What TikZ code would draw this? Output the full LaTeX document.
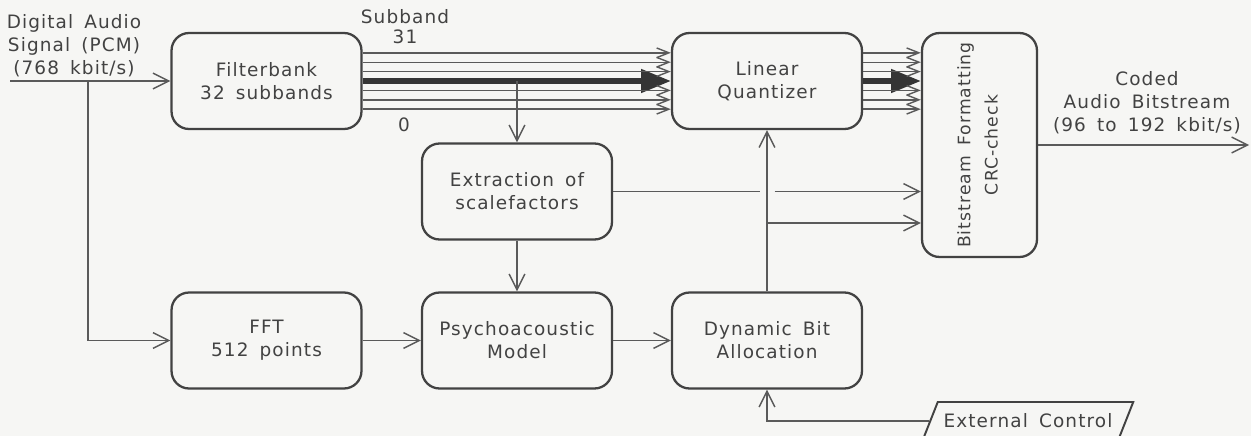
\documentclass[tikz,border=0pt]{standalone}
\usepackage{fontspec}
\setmainfont{DejaVu Sans}[LetterSpace=6,WordSpace=1.6]
\usepackage{tikz}
\usetikzlibrary{arrows.meta,positioning,calc,shapes.geometric}
\definecolor{paper}{RGB}{246,246,244}
\definecolor{ink}{RGB}{66,66,66}
\definecolor{wire}{RGB}{90,90,90}

\begin{document}
\begin{tikzpicture}[x=0.02cm,y=-0.02cm,
  font=\fontsize{10.5}{13}\selectfont, text=ink,
  block/.style={draw=ink,line width=1.3pt,rounded corners=10pt,fill=paper,minimum width=3.8cm,minimum height=1.92cm,align=center},
  link/.style={draw=wire,line width=0.8pt},
  arr/.style={link,-{Straight Barb[length=9pt,width=9pt]}},
  band/.style={link,-{Straight Barb[length=7pt,width=5.5pt]}},
  bigband/.style={draw=ink!80!black,line width=3pt,-{Triangle[length=17pt,width=13pt]}}]
 \clip (0,0) rectangle (1251,436);
 \fill[paper] (0,0) rectangle (1251,436);
 % blocks
 \node[block] (fb) at (266.5,81) {Filterbank\\32 subbands};
 \node[block] (fft) at (266.5,340.5) {FFT\\512 points};
 \node[block] (scf) at (517,191.5) {Extraction of\\scalefactors};
 \node[block] (psy) at (517,340.5) {Psychoacoustic\\Model};
 \node[block] (quant) at (767,81) {Linear\\Quantizer};
 \node[block] (dba) at (767,340.5) {Dynamic Bit\\Allocation};
 \node[block,minimum width=2.3cm,minimum height=4.48cm,font=\fontsize{9.8}{12.5}\selectfont] (bsf) at (979.5,145)
   {\rotatebox{90}{\begin{tabular}{@{}c@{}}Bitstream Formatting\\[3pt]CRC-check\end{tabular}}};
 \node[trapezium,trapezium left angle=60,trapezium right angle=120,trapezium stretches=true,
   draw=ink,line width=1.1pt,fill=paper,minimum width=4.2cm,minimum height=0.76cm] (ext) at (1028,421) {External Control};
 % labels
 \node[align=center] (src) at (74,46) {Digital Audio\\Signal (PCM)\\(768 kbit/s)};
 \node[align=center] (sb31) at (405,27) {Subband\\[-1.5pt]31};
 \node (sb0) at (404,125) {0};
 \node[align=center] (coded) at (1147,103) {Coded\\Audio Bitstream\\(96 to 192 kbit/s)};
 % input
 \coordinate (in) at (10,81);
 \coordinate (split) at (88,81);
 \draw[arr] (in) -- (fb.west);
 \draw[arr] (split) |- (fft.west);
 % subbands
 \coordinate (qout) at (quant.east -| bsf.west);
 \draw[bigband] (fb.east) -- (quant.west);
 \draw[bigband] (quant.east) -- (qout);
 \foreach \k in {-3,-2,-1,1,2,3} {
   \draw[band] ([yshift=\k*0.188cm]fb.east) -- ([yshift=\k*0.188cm]quant.west);
   \draw[band] ([yshift=\k*0.188cm]quant.east) -- ([yshift=\k*0.188cm]qout);
 }
 \draw[arr] (scf.north |- fb.east) -- (scf.north);
 \draw[arr] (scf.south) -- (psy.north);
 \draw[arr] (fft.east) -- (psy.west);
 \draw[arr] (psy.east) -- (dba.west);
 \draw[arr] (dba.north) -- (quant.south);
 % scalefactors and bit allocation to formatting
 \coordinate (cross) at (scf.east -| dba.north);
 \draw[link] (scf.east) -- ([xshift=-0.15cm]cross);
 \draw[arr] ([xshift=0.15cm]cross) -- (cross -| bsf.west);
 \coordinate (tap) at (767,223);
 \draw[arr] (tap) -- (tap -| bsf.west);
 \draw[arr] (ext.west) -| (dba.south);
 % output
 \coordinate (out) at (1249,145);
 \draw[arr] (bsf.east) -- (out);
\end{tikzpicture}
\end{document}
